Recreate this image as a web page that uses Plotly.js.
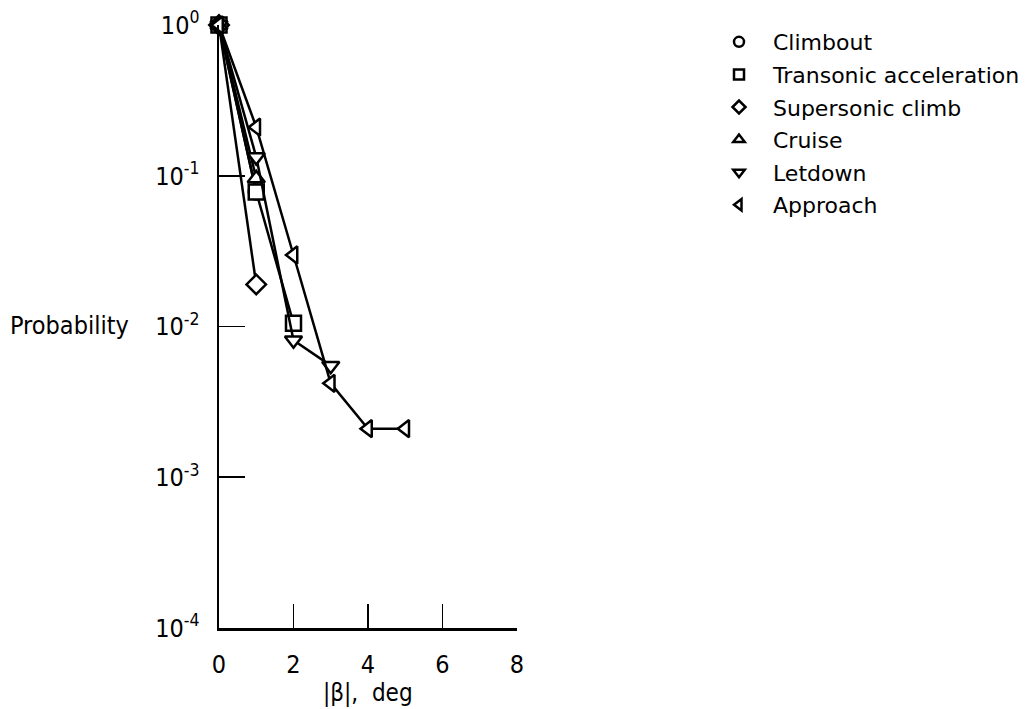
<!DOCTYPE html>
<html>
<head>
<meta charset="utf-8">
<script src="https://cdn.plot.ly/plotly-3.0.1.min.js"></script>
<style>html,body{margin:0;padding:0;background:#fff;}#chart{width:1027px;height:709px;}</style>
</head>
<body>
<div id="chart"></div>
<script>
// Data
const seriesNames = ["Climbout", "Transonic acceleration", "Supersonic climb", "Cruise", "Letdown", "Approach"];
const climboutX = [0, 1];
const climboutY = [1, 0.078];
const transonicX = [0, 1, 2];
const transonicY = [1, 0.078, 0.0105];
const supersonicX = [0, 1];
const supersonicY = [1, 0.019];
const cruiseX = [0, 1];
const cruiseY = [1, 0.096];
const letdownX = [0, 1, 2, 3];
const letdownY = [1, 0.133, 0.0081, 0.0055];
const approachX = [0, 1, 2, 3, 4, 5];
const approachY = [1, 0.21, 0.0298, 0.0042, 0.0021, 0.0021];

const xTickVals = [0, 2, 4, 6, 8];
const yTickVals = [1, 0.1, 0.01, 0.001, 0.0001];
const yTickText = ["10<sup>0</sup>", "10<sup>-1</sup>", "10<sup>-2</sup>", "10<sup>-3</sup>", "10<sup>-4</sup>"];

const symbols = ["circle", "square", "diamond", "triangle-up", "triangle-down", "triangle-left"];
const xs = [climboutX, transonicX, supersonicX, cruiseX, letdownX, approachX];
const ys = [climboutY, transonicY, supersonicY, cruiseY, letdownY, approachY];

const FONT = "'DejaVu Sans Condensed', 'Liberation Sans Narrow', 'DejaVu Sans', sans-serif";
const LFONT = "'DejaVu Sans', sans-serif";

const traces = [];
for (let i = 0; i < seriesNames.length; i++) {
  traces.push({
    x: xs[i], y: ys[i], type: 'scatter', mode: 'lines+markers',
    name: seriesNames[i], showlegend: false, cliponaxis: false,
    line: {color: '#000', width: 2.5},
    marker: {symbol: symbols[i], size: 15, color: '#fff', line: {color: '#000', width: 2.5}}
  });
}
for (let i = 0; i < seriesNames.length; i++) {
  traces.push({
    x: [null], y: [null], type: 'scatter', mode: 'markers',
    name: seriesNames[i], showlegend: true, legendgroup: 'g' + i,
    marker: {symbol: symbols[i], size: 10, color: '#fff', line: {color: '#000', width: 2.5}}
  });
}

const W = 1027, H = 709;
const layout = {
  width: W, height: H,
  margin: {l: 0, r: 0, t: 0, b: 0},
  paper_bgcolor: '#fff', plot_bgcolor: '#fff',
  font: {family: FONT, color: '#000', size: 24},
  showlegend: true,
  legend: {
    x: 705 / W, y: 1 - 21 / H, xanchor: 'left', yanchor: 'top',
    font: {family: LFONT, size: 22, color: '#000'},
    bgcolor: 'rgba(0,0,0,0)', borderwidth: 0, tracegroupgap: 1, itemwidth: 58
  },
  xaxis: {
    domain: [219 / W, 517 / W], range: [0, 8],
    tickvals: xTickVals, ticks: 'inside', ticklen: 24, tickwidth: 1.6, tickcolor: '#000',
    showline: true, linecolor: '#000', linewidth: 2.5, showgrid: false, zeroline: false,
    tickfont: {family: FONT, size: 25}, ticklabelstandoff: 12
  },
  yaxis: {
    domain: [(H - 628) / H, (H - 25) / H], type: 'log', range: [-4, 0],
    tickvals: yTickVals, ticktext: yTickText,
    ticks: 'inside', ticklen: 26, tickwidth: 1.6, tickcolor: '#000',
    showline: true, linecolor: '#000', linewidth: 2.5, showgrid: false, zeroline: false,
    tickfont: {family: FONT, size: 25}, ticklabelstandoff: 12
  },
  annotations: [
    {text: 'Probability', xref: 'paper', yref: 'paper', x: 8 / W, y: 1 - 326 / H,
     xanchor: 'left', yanchor: 'middle', showarrow: false, font: {family: FONT, size: 25}},
    {text: '|β|,  deg', xref: 'paper', yref: 'paper', x: 368 / W, y: 1 - 693 / H,
     xanchor: 'center', yanchor: 'middle', showarrow: false, font: {family: FONT, size: 24}}
  ]
};

Plotly.newPlot('chart', traces, layout, {displayModeBar: false, staticPlot: true});
</script>
</body>
</html>
